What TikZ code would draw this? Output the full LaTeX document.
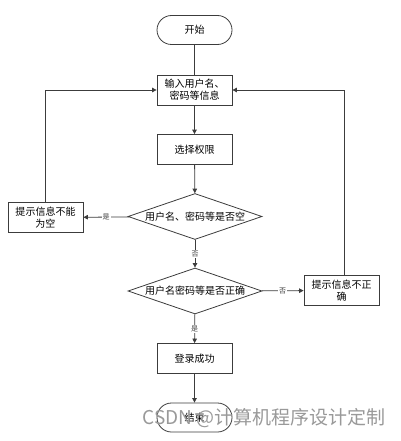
\documentclass[tikz,border=0pt]{standalone}
\usepackage{fontspec}
\setmainfont{Noto Sans CJK SC}
\usetikzlibrary{arrows.meta,shapes.geometric}
\definecolor{LineGray}{RGB}{60,60,60}
\tikzset{
  terminal/.style={draw=LineGray,thick,rounded corners=14.5pt,
    minimum width=75pt,minimum height=29pt,font=\fontsize{10}{12}\selectfont},
  process/.style={draw=LineGray,thick,minimum width=75pt,minimum height=30pt,
    inner sep=1pt,align=center,font=\fontsize{10}{12}\selectfont},
  decision/.style={draw=LineGray,thick,diamond,aspect=2.9,inner sep=0pt,
    minimum width=134pt,minimum height=46pt,font=\fontsize{10}{12}\selectfont},
  arrow/.style={-{Triangle[length=4.5pt,width=4.5pt]},thick,LineGray},
  line/.style={thick,LineGray},
  lbl/.style={fill=white,inner sep=1pt,font=\fontsize{7}{8}\selectfont}
}

\begin{document}
\begin{tikzpicture}[x=1pt,y=-1pt]
  \useasboundingbox (0,0) rectangle (400,441);

  \node[terminal] (start) at (194.5,30) {开始};
  \node[process] (input) at (194.5,90) {输入用户名、\\密码等信息};
  \node[process] (role) at (194.5,149.5) {选择权限};
  \node[decision] (empty) at (195,216.5) {用户名、密码等是否空};
  \node[process] (tipempty) at (45.5,217.5) {提示信息不能\\为空};
  \node[decision] (check) at (195,291) {用户名密码等是否正确};
  \node[process] (tipwrong) at (341.5,290.5) {提示信息不正\\确};
  \node[process] (ok) at (194.5,358.5) {登录成功};
  \node[terminal] (finish) at (194.5,417.5) {结束};

  \draw[line] (start) -- (input);
  \draw[arrow] (input) -- (role);
  \draw[arrow] (role) -- (empty);
  \draw[arrow] (empty) -- node[lbl] {是} (tipempty);
  \draw[arrow] (tipempty) |- (input);
  \draw[arrow] (empty) -- node[lbl] {否} (check);
  \draw[arrow] (check) -- node[lbl] {否} (tipwrong);
  \draw[arrow] ([xshift=2.5pt]tipwrong.north) |- (input);
  \draw[arrow] (check) -- node[lbl] {是} (ok);
  \draw[arrow] (ok) -- (finish);

  % watermark
  \node[text=gray!80,font=\fontsize{19}{20}\selectfont,inner sep=0pt]
    (mark) at (264,418) {CSDN @计算机程序设计定制};
\end{tikzpicture}
\end{document}
